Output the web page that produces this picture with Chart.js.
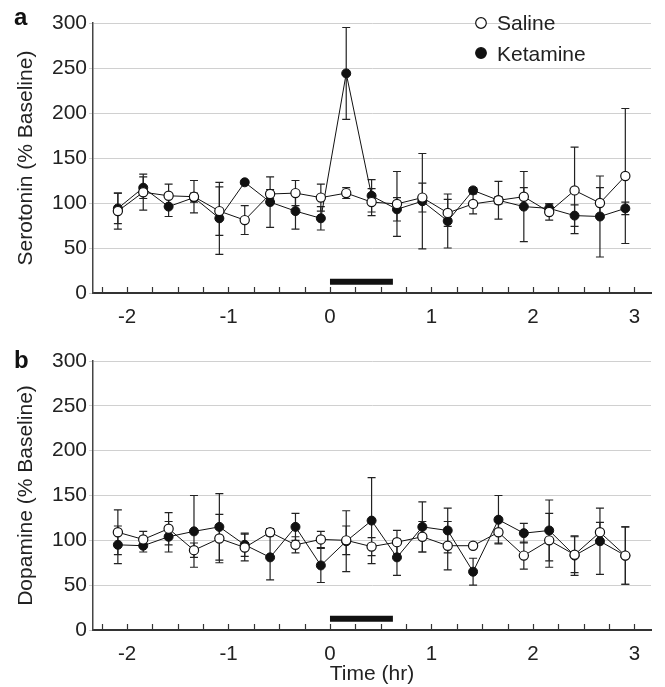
<!DOCTYPE html>
<html><head><meta charset="utf-8">
<script src="https://cdn.jsdelivr.net/npm/chart.js@4.4.0/dist/chart.umd.min.js"></script>
<style>
html,body{margin:0;padding:0;background:#fff;}
#wrap{position:relative;width:665px;height:687px;overflow:hidden;}
canvas{position:absolute;left:0;}
#ca{top:0;} #cb{top:335px;}
</style></head><body>
<div id="wrap"><canvas id="ca" width="665" height="335"></canvas><canvas id="cb" width="665" height="352"></canvas></div>
<script>
// ---- data ----
const times = [-2.09,-1.84,-1.59,-1.34,-1.09,-0.84,-0.59,-0.34,-0.09,0.16,0.41,0.66,0.91,1.16,1.41,1.66,1.91,2.16,2.41,2.66,2.91];
const xTickValues = [-2.25,-2,-1.75,-1.5,-1.25,-1,-0.75,-0.5,-0.25,0,0.25,0.5,0.75,1,1.25,1.5,1.75,2,2.25,2.5,2.75,3];
const seriesNames = ['Saline','Ketamine'];
const treatmentTimes = [0, 0.62];
const treatmentLevel = [12.5, 12.5];

const serotoninSaline     = [91,112,108,107,91,81,110,111,106,111,101,99,106,89,99,103,107,90,114,100,130];
const serotoninSalineErr  = [20,20,13,18,27,16,5,14,15,6,15,36,16,15,11,21,10,9,48,17,75];
const serotoninKetamine   = [94,117,96,106,83,123,101,91,83,244,108,93,102,80,114,103,96,94,86,85,94];
const serotoninKetamineErr= [17,12,11,5,40,2,28,20,13,51,18,13,53,30,3,4,39,5,12,45,7];

const dopamineSaline      = [109,101,113,89,102,92,109,95,101,100,93,98,104,94,94,109,83,100,84,109,83];
const dopamineSalineErr   = [25,9,18,8,27,15,4,9,9,16,10,13,17,27,3,12,15,30,20,11,32];
const dopamineKetamine    = [95,94,104,110,115,95,81,115,72,99,122,81,115,111,65,123,108,111,83,99,83];
const dopamineKetamineErr = [21,7,17,40,37,13,25,15,19,34,48,20,28,25,15,27,11,34,22,37,32];

const FONT = '"Liberation Sans", Arial, Helvetica, sans-serif';
Chart.defaults.font.family = FONT;
Chart.defaults.color = '#222';

const errorBars = {
  id: 'errorBars',
  beforeDatasetsDraw(chart) {
    const {ctx, scales: {x, y}} = chart;
    ctx.save();
    ctx.strokeStyle = '#222';
    ctx.lineWidth = 1.2;
    chart.data.datasets.forEach(ds => {
      if (!ds.errors) return;
      ds.data.forEach((p, i) => {
        const e = ds.errors[i];
        const px = x.getPixelForValue(p.x);
        const t = y.getPixelForValue(p.y + e), b = y.getPixelForValue(p.y - e);
        ctx.beginPath();
        ctx.moveTo(px, t); ctx.lineTo(px, b);
        ctx.moveTo(px - 4, t); ctx.lineTo(px + 4, t);
        ctx.moveTo(px - 4, b); ctx.lineTo(px + 4, b);
        ctx.stroke();
      });
    });
    ctx.restore();
  }
};

const innerTicks = {
  id: 'innerTicks',
  beforeDatasetsDraw(chart) {
    const {ctx, scales: {x}, chartArea} = chart;
    ctx.save();
    ctx.strokeStyle = '#333';
    ctx.lineWidth = 1.2;
    x.ticks.forEach(t => {
      const px = Math.round(x.getPixelForValue(t.value)) + 0.5;
      ctx.beginPath();
      ctx.moveTo(px, chartArea.bottom);
      ctx.lineTo(px, chartArea.bottom - 6);
      ctx.stroke();
    });
    ctx.restore();
  }
};

const panelDecor = {
  id: 'panelDecor',
  afterDraw(chart, args, opts) {
    const ctx = chart.ctx;
    ctx.save();
    ctx.fillStyle = '#111';
    ctx.textBaseline = 'alphabetic';
    ctx.textAlign = 'left';
    ctx.font = 'bold 24px ' + FONT;
    ctx.fillText(opts.letter, 14, opts.letterBaseline);
    if (opts.legend) {
      ctx.font = '21px ' + FONT;
      const rows = [{y: 23, fill: '#fff', base: 30}, {y: 53, fill: '#111', base: 60.5}];
      seriesNames.forEach((name, i) => {
        const r = rows[i];
        ctx.beginPath();
        ctx.arc(481, r.y, 5.3, 0, Math.PI * 2);
        ctx.fillStyle = r.fill; ctx.fill();
        ctx.strokeStyle = '#111'; ctx.lineWidth = 1.2; ctx.stroke();
        ctx.fillStyle = '#222';
        ctx.fillText(name, 497, r.base);
      });
    }
    ctx.restore();
  }
};

function pts(vals) { return vals.map((v, i) => ({x: times[i], y: v})); }

function makeChart(id, sal, salErr, ket, ketErr, yTitle, xTitle, padTop, xAxisH, letter, letterBase, legend) {
  return new Chart(document.getElementById(id), {
    type: 'line',
    data: {
      datasets: [
        {label: seriesNames[0], data: pts(sal), errors: salErr, borderColor: '#111', borderWidth: 1,
         pointRadius: 4.6, pointBackgroundColor: '#fff', pointBorderColor: '#111', pointBorderWidth: 1.2, tension: 0},
        {label: seriesNames[1], data: pts(ket), errors: ketErr, borderColor: '#111', borderWidth: 1,
         pointRadius: 4.5, pointBackgroundColor: '#111', pointBorderColor: '#111', pointBorderWidth: 1, tension: 0},
        {label: 'treatment', data: treatmentTimes.map((t, i) => ({x: t, y: treatmentLevel[i]})),
         borderColor: '#111', borderWidth: 6, pointRadius: 0, borderCapStyle: 'butt'}
      ]
    },
    options: {
      responsive: false, animation: false, devicePixelRatio: 1,
      layout: {padding: {left: 0, right: 14, top: padTop, bottom: 0}},
      plugins: {legend: {display: false}, tooltip: {enabled: false},
                panelDecor: {letter: letter, letterBaseline: letterBase, legend: legend}},
      scales: {
        x: {
          type: 'linear', min: -2.335, max: 3.163,
          afterBuildTicks: s => { s.ticks = xTickValues.map(v => ({value: v})); },
          afterFit: s => { s.height = xAxisH; },
          grid: {display: false, drawTicks: false},
          border: {display: true, color: '#333', width: 2},
          ticks: {autoSkip: false, maxRotation: 0, padding: 12, font: {size: 20.5}, color: '#222',
                  callback: v => Number.isInteger(v) ? String(v) : ''},
          title: {display: !!xTitle, text: xTitle || '', font: {size: 21}, color: '#222', padding: {top: 0, bottom: 0}}
        },
        y: {
          min: 0, max: 300,
          afterFit: s => { s.width = 93; },
          ticks: {stepSize: 50, padding: 2, font: {size: 21}, color: '#222'},
          grid: {color: '#d0d0d0', lineWidth: 1, tickLength: 4, drawTicks: true},
          border: {display: true, color: '#444', width: 1.5},
          title: {display: true, text: yTitle, font: {size: 21}, color: '#222', padding: {top: 14, bottom: 0}}
        }
      }
    },
    plugins: [errorBars, innerTicks, panelDecor]
  });
}

makeChart('ca', serotoninSaline, serotoninSalineErr, serotoninKetamine, serotoninKetamineErr,
          'Serotonin (% Baseline)', null, 23, 42, 'a', 25, true);
makeChart('cb', dopamineSaline, dopamineSalineErr, dopamineKetamine, dopamineKetamineErr,
          'Dopamine (% Baseline)', 'Time (hr)', 26, 57, 'b', 33, false);
</script>
</body></html>
